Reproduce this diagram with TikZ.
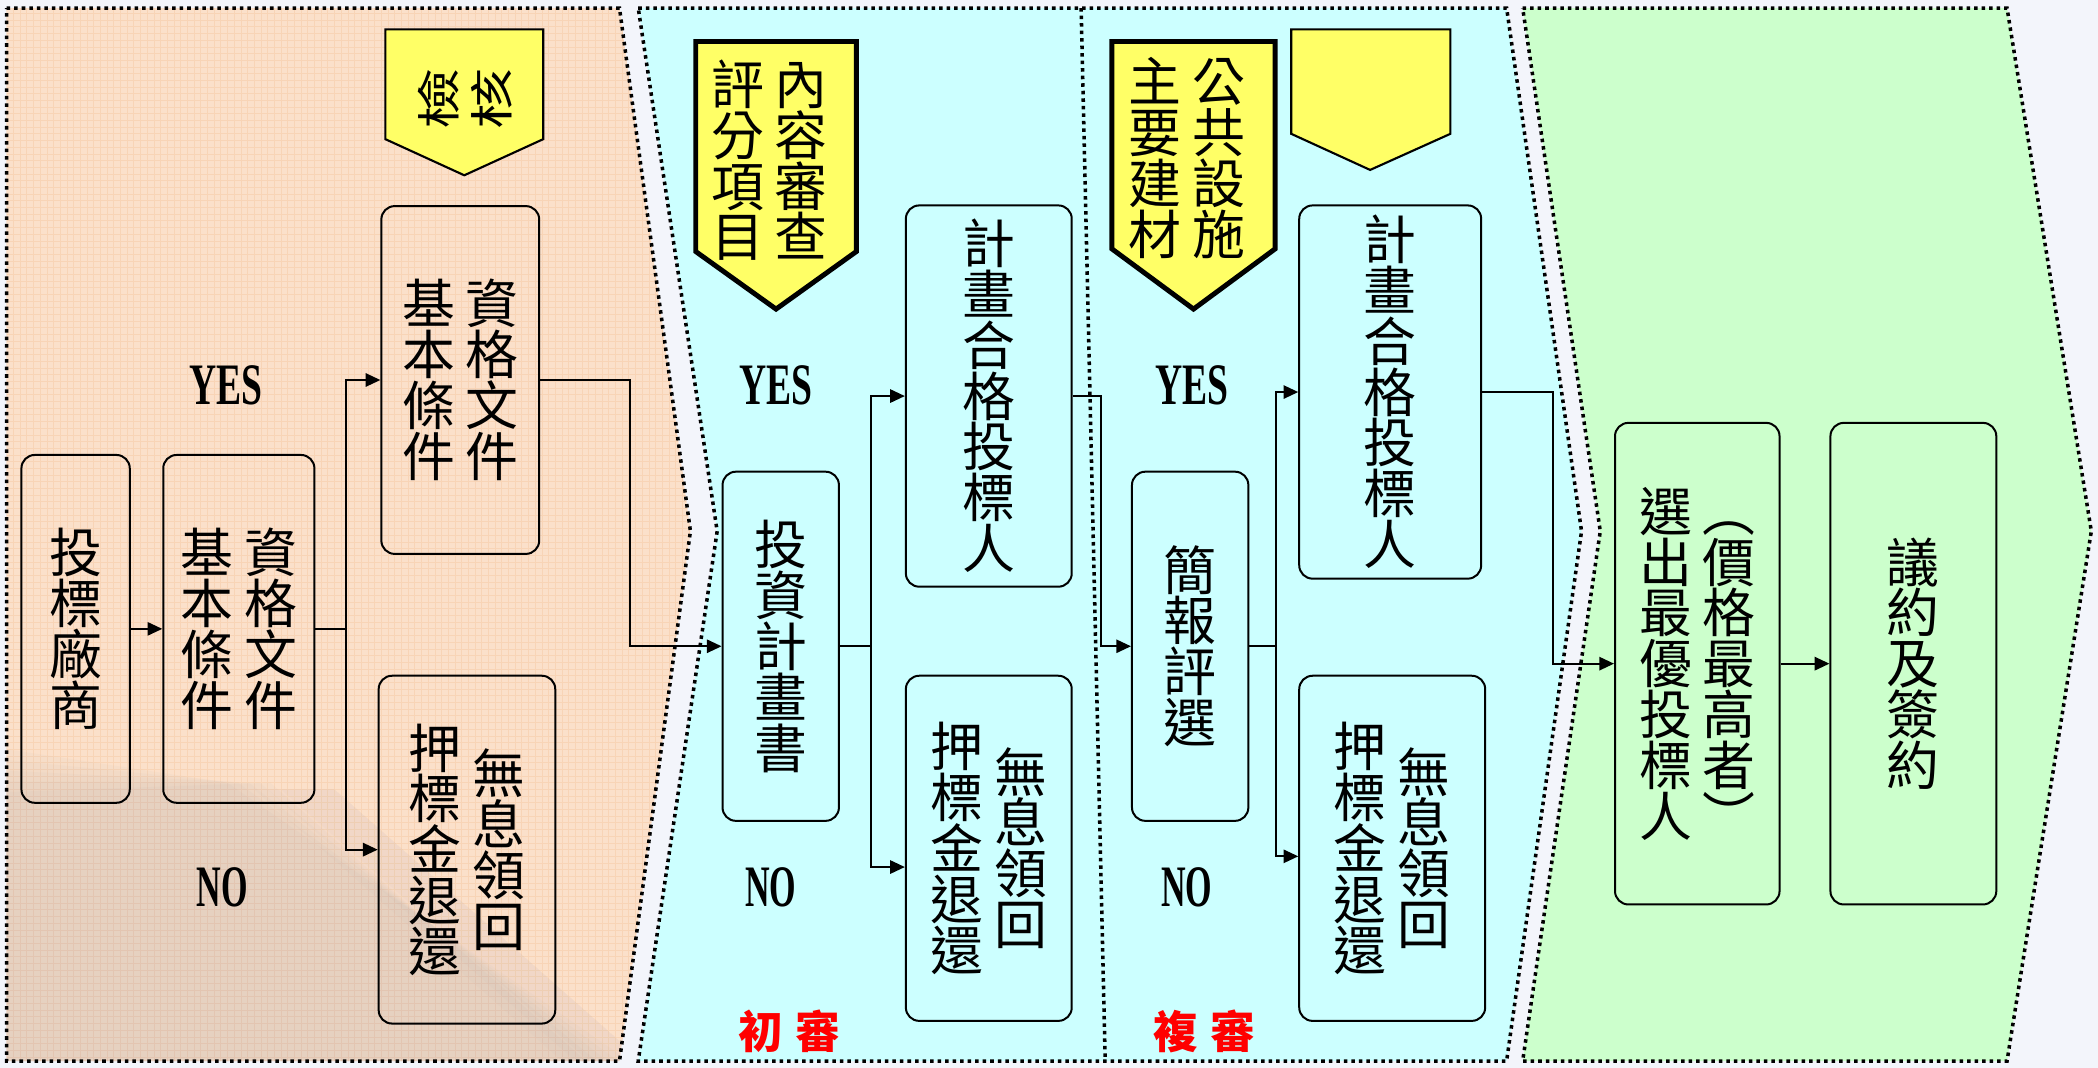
\documentclass[tikz,border=0pt]{standalone}
\usepackage{fontspec}
\setmainfont{Liberation Serif}
\newfontfamily\cjk{Noto Sans CJK TC}
\usetikzlibrary{arrows.meta}
\definecolor{bgc}{RGB}{243,245,251}
\definecolor{orangep}{RGB}{251,224,202}
\definecolor{gridc}{RGB}{248,212,182}
\definecolor{cyanp}{RGB}{204,255,255}
\definecolor{greenp}{RGB}{204,255,204}
\definecolor{yell}{RGB}{255,255,102}
\definecolor{shadow}{RGB}{120,130,160}
% vertical stacking of characters at a fixed pitch
\newlength{\chp}\setlength{\chp}{0.76cm}
\def\vsend{\relax}
\newcommand{\cc}[1]{\hbox to 1em{\hss\vbox to \chp{\vss\hbox{\vrule height 0.88em depth 0.12em width 0pt\relax #1}\vss}\hss}}
\def\vsl#1{\ifx#1\vsend\else\cc{#1}\expandafter\vsl\fi}
\newcommand{\vstack}[1]{\ensuremath{\vcenter{\offinterlineskip\vsl#1\vsend}}}
\newcommand{\twocol}[2]{\vstack{#1}\hspace{0.16cm}\vstack{#2}}
\newcommand{\rotch}[1]{\rotatebox{90}{\scalebox{1}[0.72]{#1}}}
\begin{document}
\begin{tikzpicture}[x=0.02cm,y=-0.02cm,
  panel/.style={line width=1.5pt, dash pattern=on 1.5pt off 1.7pt},
  box/.style={draw, line width=0.85pt, rounded corners=0.2cm, inner sep=0pt,
    font=\cjk\fontsize{22.5}{23}\selectfont},
  arr/.style={line width=0.75pt, -{Triangle[length=0.22cm,width=0.2cm]}},
  yn/.style={font=\bfseries\fontsize{25}{26}\selectfont, inner sep=0pt},
  redlab/.style={font=\cjk\bfseries\fontsize{19}{20}\selectfont, text=red, inner sep=0pt},
  ylab/.style={font=\cjk\fontsize{22.5}{23}\selectfont, inner sep=0pt},
  thinpent/.style={draw, fill=yell, line width=0.9pt, line join=miter},
  thickpent/.style={draw, fill=yell, line width=2.1pt, line join=miter}
]
\useasboundingbox (0,0) rectangle (1568,798);
\fill[bgc] (0,0) rectangle (1568,798);

% orange panel
\fill[orangep] (5,6) -- (463,6) -- (516,397) -- (463,793) -- (5,793) -- cycle;
\begin{scope}
  \clip (5,6) -- (463,6) -- (516,397) -- (463,793) -- (5,793) -- cycle;
  \draw[gridc, line width=0.25pt, step=0.1cm] (0,0) grid (520,800);
  % soft diagonal shadow of the backdrop
  \foreach \d in {0,8,16,24,32} {
    \fill[shadow, opacity=0.03] (5,560+\d) -- (170+\d,585) -- (470-\d,793) -- (5,793) -- cycle;
  }
  \foreach \d in {0,10,20} {
    \fill[shadow, opacity=0.025] (190+\d,590) -- (250,590) -- (480,793) -- (420+\d,793) -- cycle;
  }
\end{scope}
\draw[panel] (5,6) -- (463,6) -- (516,397) -- (463,793) -- (5,793) -- cycle;

% cyan panel
\draw[panel, fill=cyanp] (477,6) -- (1126,6) -- (1182,397) -- (1126,793) -- (477,793) -- (536,397) -- cycle;
\draw[panel] (808,6) -- (826,793);

% green panel
\draw[panel, fill=greenp] (1138,6) -- (1500,6) -- (1563,397) -- (1500,793) -- (1138,793) -- (1196,397) -- cycle;

% yellow pentagons
\draw[thinpent] (288,22) -- (406,22) -- (406,104) -- (347,131) -- (288,104) -- cycle;
\draw[thickpent] (520,31) -- (640,31) -- (640,188) -- (580,231) -- (520,188) -- cycle;
\draw[thickpent] (831,31) -- (953,31) -- (953,186) -- (892,231) -- (831,186) -- cycle;
\draw[thinpent] (965,22) -- (1084,22) -- (1084,100) -- (1024,127) -- (965,100) -- cycle;

\node[font=\cjk\fontsize{26}{26}\selectfont, inner sep=0pt] (t1) at (347.5,74) {\rotch{檢}\hspace{5pt}\rotch{核}};
\node[ylab] (t2) at (575,120) {\twocol{評分項目}{內容審查}};
\node[ylab] (t3) at (887,118) {\twocol{主要建材}{公共設施}};

% boxes
\node[box, minimum width=1.62cm, minimum height=5.2cm] (n1) at (56.5,470) {\vstack{投標廠商}};
\node[box, minimum width=2.26cm, minimum height=5.2cm] (n2) at (178.5,470) {\twocol{基本條件}{資格文件}};
\node[box, minimum width=2.36cm, minimum height=5.2cm] (n3) at (344,284) {\twocol{基本條件}{資格文件}};
\node[box, minimum width=2.64cm, minimum height=5.2cm] (n4) at (349,635) {\twocol{押標金退還}{無息領回}};
\node[box, minimum width=1.74cm, minimum height=5.22cm] (n5) at (583.5,483) {\vstack{投資計畫書}};
\node[box, minimum width=2.48cm, minimum height=5.7cm] (n6) at (739,296) {\vstack{計畫合格投標人}};
\node[box, minimum width=2.48cm, minimum height=5.16cm] (n7) at (739,634) {\twocol{押標金退還}{無息領回}};
\node[box, minimum width=1.74cm, minimum height=5.22cm] (n8) at (889.5,483) {\vstack{簡報評選}};
\node[box, minimum width=2.72cm, minimum height=5.58cm] (n9) at (1039,293) {\vstack{計畫合格投標人}};
\node[box, minimum width=2.78cm, minimum height=5.16cm] (n10) at (1040.5,634) {\twocol{押標金退還}{無息領回}};
\node[box, minimum width=2.46cm, minimum height=7.2cm] (n11) at (1268.5,496) {\twocol{選出最優投標人}{︵價格最高者︶}};
\node[box, minimum width=2.48cm, minimum height=7.2cm] (n12) at (1430,496) {\vstack{議約及簽約}};

% YES / NO
\node[yn] (y1) at (169,288) {\scalebox{0.64}[1]{YES}};
\node[yn] (y2) at (580,288) {\scalebox{0.64}[1]{YES}};
\node[yn] (y3) at (891,288) {\scalebox{0.64}[1]{YES}};
\node[yn] (no1) at (166,663) {\scalebox{0.58}[1]{NO}};
\node[yn] (no2) at (576,663) {\scalebox{0.58}[1]{NO}};
\node[yn] (no3) at (887,663) {\scalebox{0.58}[1]{NO}};

\node[redlab] (r1) at (590,771) {初\hspace{5pt}審};
\node[redlab] (r2) at (900,771) {複\hspace{5pt}審};

% connectors
\draw[arr] (n1.east) -- (n2.west);
\draw[arr] (n2.east) -- ++(23,0) |- (n3.west);
\draw[arr] (n2.east) -- ++(23,0) |- (n4.west);
\draw[arr] (n3.east) -- ++(67,0) |- (n5.west);
\draw[arr] (n5.east) -- ++(23,0) |- (n6.west);
\draw[arr] (n5.east) -- ++(23,0) |- (n7.west |- 0,648);
\draw[arr] (n6.east) -- ++(21,0) |- (n8.west);
\draw[arr] (n8.east) -- ++(20,0) |- (n9.west);
\draw[arr] (n8.east) -- ++(20,0) |- (n10.west |- 0,640);
\draw[arr] (n9.east) -- ++(53,0) |- (n11.west);
\draw[arr] (n11.east) -- (n12.west);
\end{tikzpicture}
\end{document}
